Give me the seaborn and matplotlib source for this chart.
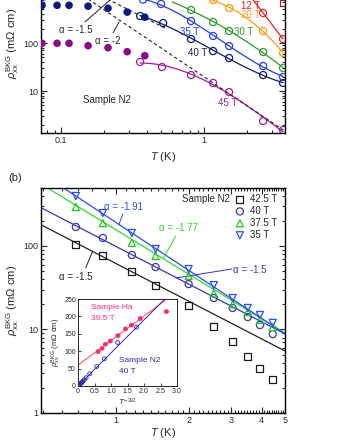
import numpy as np
import matplotlib
matplotlib.use("Agg")
import matplotlib.pyplot as plt
import matplotlib.ticker as mticker
import seaborn as sns

sns.set_style("ticks")
plt.rcParams['font.family'] = ['Liberation Sans', 'DejaVu Sans']
plt.rcParams['mathtext.fontset'] = 'custom'
plt.rcParams['mathtext.rm'] = 'Liberation Sans'
plt.rcParams['mathtext.it'] = 'Liberation Sans:italic'
plt.rcParams['xtick.direction'] = 'in'
plt.rcParams['ytick.direction'] = 'in'

# ---- panel (a) data: rho_xx^BKG vs T at several fields ----
t45 = [0.357, 0.508, 0.811, 1.156, 1.496, 2.587, 3.567]
r45 = [40.2, 31.6, 21.5, 14.7, 9.5, 2.37, 1.54]
t40 = [0.357, 0.517, 0.811, 1.156, 1.496, 2.587, 3.567]
r40 = [365, 261, 121, 68, 48.7, 21.5, 14.7]
t35 = [0.374, 0.50, 0.811, 1.156, 1.496, 2.587, 3.567]
r35 = [800, 649, 287, 140, 86.6, 33.2, 19.6]
t30 = [0.811, 1.156, 1.496, 2.587, 3.567]
r30 = [487, 274, 178, 64.9, 30.1]
t20 = [1.156, 1.496, 2.587, 3.567]
r20 = [787, 536, 178, 61.9]
t12 = [2.587, 3.567]
r12 = [422, 121]
t_sq = [3.567]
r_sq = [681]
# low-T filled points
t_fill = [0.0736, 0.0938, 0.1137, 0.1545, 0.213, 0.29, 0.385]
r_fill_navy = [610, 610, 610, 585, 530, 440, 345]
r_fill_purple = [98.6, 98.6, 98.6, 87.8, 79.8, 65.9, 54.4]
# power-law guide lines (alpha, amplitude at T=1, T range)
guide_a = [(-1.5, 79.7, 0.2, 0.55), (-2.0, 19.7, 0.15, 3.7)]

# ---- panel (b) data ----
tb = [0.684, 0.884, 1.165, 1.46, 2.0, 2.54, 3.04, 3.51, 3.94, 4.45]
r425 = [105, 76, 50, 34, 19.6, 11, 7.1, 4.8, 3.37, 2.55]
r400 = [169, 125, 78, 56, 35, 23.8, 18.1, 14.1, 11.3, 8.8]
r375 = [293, 188, 109, 76, 44, 27, 20, 16.2, 13, 10.7]
r350 = [397, 248, 143, 92, 53, 34, 23.8, 18.1, 14.9, 12]
alpha_b = [-1.5, -1.5, -1.77, -1.91]
amp_b = [61.8, 99, 157, 192]

# ---- inset data: rho vs T^-3/2 ----
ha_x = [0.61, 0.73, 0.83, 0.98, 1.21, 1.44, 1.62, 1.89, 2.68]
ha_y = [99, 108, 120, 129, 145, 164, 175, 194, 214]
n2_x = [0.02, 0.04, 0.06, 0.08, 0.107, 0.128, 0.152, 0.189, 0.247, 0.354, 0.567, 0.795, 1.2, 1.77]
n2_y = [2, 4, 6, 7.5, 8.8, 11.3, 14.1, 18.1, 23.8, 35, 56, 78, 125, 169]
ha_fit = (70.5, 60)   # slope, intercept
n2_fit = (95, 0)

fig = plt.figure(figsize=(3.41, 4.41), dpi=100)
W, H = 341, 441


def px_axes(l, r, t, b):
    return fig.add_axes([l / W, (H - b) / H, (r - l) / W, (b - t) / H])


def smooth(t, r, deg, tmin=None):
    lt = np.log10(t)
    c = np.polyfit(lt, np.log10(r), deg)
    tt = np.logspace(np.log10(tmin if tmin else t[0]), np.log10(t[-1]), 120)
    return tt, 10 ** np.polyval(c, np.log10(tt))


# ================= panel (a) =================
ax = px_axes(41, 285, -47, 133)
ax.set_xscale('log')
ax.set_yscale('log')

series_a = [
    (t45, r45, '#9a1f9a', 3, None),
    (t40, r40, '#101a70', 3, None),
    (t35, r35, '#2040f0', 3, None),
    (t30, r30, '#2e9a2e', 2, 0.6),
    (t20, r20, '#ff9a10', 2, 1.0),
    (t12, r12, '#f52020', 1, 2.2),
]
for t, r, c, deg, tmin in series_a:
    tt, rr = smooth(t, r, deg, tmin)
    sns.lineplot(x=tt, y=rr, ax=ax, color=c, lw=0.9, sort=False)
    sns.scatterplot(x=t, y=r, ax=ax, marker='o', s=26, facecolor='none',
                    edgecolor=c, linewidth=0.9, zorder=3)
sns.scatterplot(x=t_sq, y=r_sq, ax=ax, marker='s', s=22, facecolor='none',
                edgecolor='#8b2a2a', linewidth=0.9, zorder=3)
sns.scatterplot(x=t_fill, y=r_fill_navy, ax=ax, marker='o', s=30,
                color='#0a1a80', edgecolor='none', zorder=3)
sns.scatterplot(x=t_fill, y=r_fill_purple, ax=ax, marker='o', s=30,
                color='#8a0a8a', edgecolor='none', zorder=3)
for a, amp, t0, t1 in guide_a:
    tt = np.logspace(np.log10(t0), np.log10(t1), 50)
    sns.lineplot(x=tt, y=amp * tt ** a, ax=ax, color='#222222', lw=0.8,
                 linestyle=(0, (3, 2.5)), sort=False)

ax.set_xlim(0.0724, 3.68)
ax.set_ylim(1.334, 7499)
ax.xaxis.set_major_locator(mticker.FixedLocator([0.1, 1]))
ax.xaxis.set_major_formatter(mticker.FixedFormatter(['0.1', '1']))
ax.xaxis.set_minor_locator(mticker.LogLocator(subs=np.arange(2, 10)))
ax.xaxis.set_minor_formatter(mticker.NullFormatter())
ax.yaxis.set_major_locator(mticker.FixedLocator([10, 100, 1000]))
ax.yaxis.set_major_formatter(mticker.FixedFormatter(['10', '100', '']))
ax.yaxis.set_minor_locator(mticker.LogLocator(subs=np.arange(2, 10)))
ax.yaxis.set_minor_formatter(mticker.NullFormatter())

ax.text(0.127, 187, 'α = -1.5', fontsize=7, ha='center', va='center')
ax.plot([0.147, 0.22], [274, 787], color='#222222', lw=0.7)
ax.text(0.213, 110, 'α = -2', fontsize=7, ha='center', va='center')
ax.plot([0.231, 0.2545], [162, 274], color='#222222', lw=0.7)
ax.text(0.21, 6.5, 'Sample N2', fontsize=7, ha='center', va='center')
ax.text(1.47, 5.6, '45 T', fontsize=7, color='#9a1f9a', ha='center', va='center')
ax.text(0.908, 61.9, '40 T', fontsize=7, color='#101a70', ha='center', va='center')
ax.text(0.798, 169, '35 T', fontsize=7, color='#2040f0', ha='center', va='center')
ax.text(1.905, 169, '30 T', fontsize=7, color='#2e9a2e', ha='center', va='center')
ax.text(2.10, 383, '20 T', fontsize=7, color='#ff9a10', ha='center', va='center')
ax.text(2.10, 600, '12 T', fontsize=7, color='#f52020', ha='center', va='center')

ax.set_xlabel('$T$ (K)', fontsize=8)
ax.set_ylabel(r'$\rho_{\rm xx}^{\rm BKG}$ (m$\Omega$ cm)', fontsize=8)
ax.yaxis.set_label_coords(-0.082, 0.5)

# ================= panel (b) =================
bx = px_axes(41, 285, 188, 413)
bx.set_xscale('log')
bx.set_yscale('log')

series_b = [
    (r425, 's', '#1a1a1a', '#222222', '42.5 T'),
    (r400, 'o', '#3535c0', '#3535c0', '40 T'),
    (r375, '^', '#20c820', '#30d830', '37.5 T'),
    (r350, 'v', '#2a4cff', '#2a4cff', '35 T'),
]
tl = np.logspace(np.log10(0.49), np.log10(5.0), 60)
for (r, m, c, lc, lab), a, amp in zip(series_b, alpha_b, amp_b):
    sns.lineplot(x=tl, y=amp * tl ** a, ax=bx, color=lc, lw=0.9, sort=False)
    sns.scatterplot(x=tb, y=r, ax=bx, marker=m, s=26, facecolor='none',
                    edgecolor=c, linewidth=0.9, zorder=3, label=lab)

bx.set_xlim(0.491, 5.0)
bx.set_ylim(1, 495)
bx.xaxis.set_major_locator(mticker.FixedLocator([1, 2, 3, 4, 5]))
bx.xaxis.set_major_formatter(mticker.FixedFormatter(['1', '2', '3', '4', '5']))
bx.xaxis.set_minor_locator(mticker.FixedLocator(np.arange(0.5, 5.0, 0.1)))
bx.xaxis.set_minor_formatter(mticker.NullFormatter())
bx.yaxis.set_major_locator(mticker.FixedLocator([1, 10, 100]))
bx.yaxis.set_major_formatter(mticker.FixedFormatter(['1', '10', '100']))
bx.yaxis.set_minor_locator(mticker.LogLocator(subs=np.arange(2, 10)))
bx.yaxis.set_minor_formatter(mticker.NullFormatter())

bx.text(1.08, 293, 'α = -1.91', fontsize=7, color='#2a4cff', ha='center', va='center')
bx.plot([1.069, 1.029], [242, 178], color='#2a4cff', lw=0.7)
bx.text(1.82, 164, 'α = -1.77', fontsize=7, color='#30d830', ha='center', va='center')
bx.plot([1.77, 1.564], [132, 69.8], color='#30d830', lw=0.7)
bx.text(3.58, 51.6, 'α = -1.5', fontsize=7, color='#3535c0', ha='center', va='center')
bx.plot([3.01, 1.77], [53, 41.4], color='#3535c0', lw=0.7)
bx.text(0.684, 42.6, 'α = -1.5', fontsize=7, color='#222222', ha='center', va='center')
bx.plot([0.751, 0.803], [54.6, 87.1], color='#222222', lw=0.7)
bx.text(2.355, 365, 'Sample N2', fontsize=7, ha='center', va='center')

bx.legend(loc='upper left', bbox_to_anchor=((235 - 41) / 244, (413 - 194) / 225),
          frameon=False, fontsize=7, handlelength=1.0, handletextpad=0.5,
          labelspacing=0.2, borderpad=0, borderaxespad=0)

bx.set_xlabel('$T$ (K)', fontsize=8, labelpad=1)
bx.set_ylabel(r'$\rho_{\rm xx}^{\rm BKG}$ (m$\Omega$ cm)', fontsize=8)
bx.yaxis.set_label_coords(-0.082, 0.5)
fig.text(8 / W, (H - 178) / H, '(b)', fontsize=8, va='center')

# ================= inset =================
ix = px_axes(78, 177, 299, 386)
xl = np.linspace(0, 3, 50)
sns.lineplot(x=xl, y=ha_fit[0] * xl + ha_fit[1], ax=ix, color='#ff4a4a', lw=0.7)
sns.lineplot(x=xl, y=n2_fit[0] * xl + n2_fit[1], ax=ix, color='#2a2ab0', lw=0.7)
sns.scatterplot(x=ha_x, y=ha_y, ax=ix, marker='o', s=12, color='#ff2a6a',
                edgecolor='none', zorder=3)
sns.scatterplot(x=n2_x, y=n2_y, ax=ix, marker='o', s=8, facecolor='none',
                edgecolor='#2a2ab0', linewidth=0.6, zorder=3)
ix.set_xlim(0, 3)
ix.set_ylim(0, 250)
ix.set_xticks([0, 0.5, 1.0, 1.5, 2.0, 2.5, 3.0])
ix.set_xticklabels(['0', '0.5', '1.0', '1.5', '2.0', '2.5', '3.0'])
ix.set_yticks([0, 50, 100, 150, 200, 250])
ix.tick_params(labelsize=5, length=2, width=0.6, pad=1.5)
for s in ix.spines.values():
    s.set_linewidth(0.7)
ix.text(0.4, 227, 'Sample Ha', fontsize=6, color='#ff2a8a', ha='left', va='center')
ix.text(0.4, 195, '39.5 T', fontsize=6, color='#ff2a8a', ha='left', va='center')
ix.text(1.25, 73, 'Sample N2', fontsize=6, color='#2a2ab0', ha='left', va='center')
ix.text(1.25, 43, '40 T', fontsize=6, color='#2a2ab0', ha='left', va='center')
ix.set_xlabel('$T^{-3/2}$', fontsize=6, labelpad=1)
ix.set_ylabel(r'$\rho_{\rm xx}^{\rm BKG}$ (m$\Omega$ cm)', fontsize=5.5, labelpad=1)

for a_ in (ax, bx):
    a_.tick_params(which='both', top=True, right=True, labelsize=6.5, width=0.8, pad=2)
    a_.tick_params(which='major', length=4)
    a_.tick_params(which='minor', length=2)
    for s in a_.spines.values():
        s.set_linewidth(1.0)
        s.set_color('black')

fig.savefig('out.png', dpi=100)
